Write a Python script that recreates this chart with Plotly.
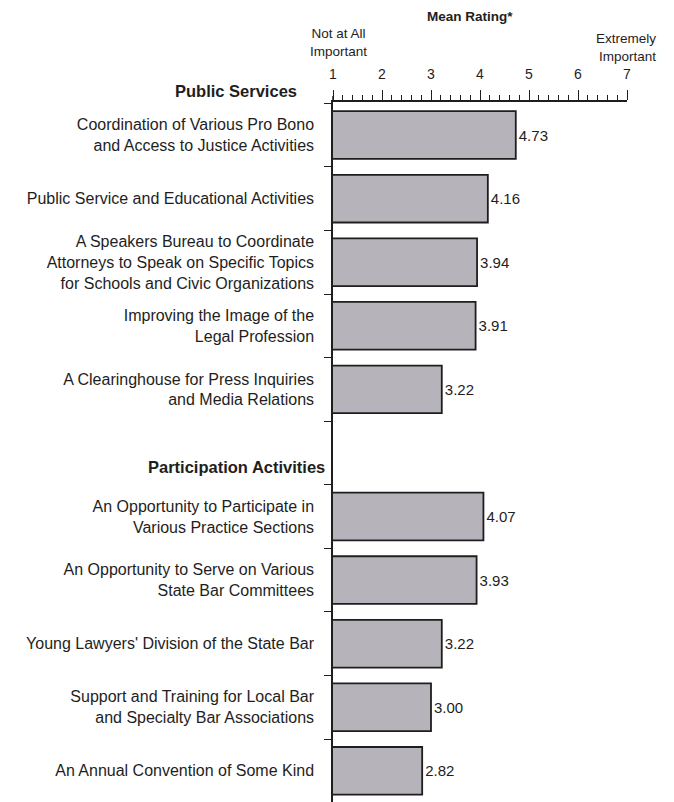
import plotly.graph_objects as go

# ---- data ----
group_titles = ["Public Services", "Participation Activities"]
public_labels = [
    "Coordination of Various Pro Bono<br>and Access to Justice Activities",
    "Public Service and Educational Activities",
    "A Speakers Bureau to Coordinate<br>Attorneys to Speak on Specific Topics<br>for Schools and Civic Organizations",
    "Improving the Image of the<br>Legal Profession",
    "A Clearinghouse for Press Inquiries<br>and Media Relations",
]
public_values = [4.73, 4.16, 3.94, 3.91, 3.22]
participation_labels = [
    "An Opportunity to Participate in<br>Various Practice Sections",
    "An Opportunity to Serve on Various<br>State Bar Committees",
    "Young Lawyers' Division of the State Bar",
    "Support and Training for Local Bar<br>and Specialty Bar Associations",
    "An Annual Convention of Some Kind",
]
participation_values = [4.07, 3.93, 3.22, 3.00, 2.82]
scale_ticks = [1, 2, 3, 4, 5, 6, 7]

# ---- layout geometry (screen pixels; page body has an 8px margin) ----
OFF = 8
SW, SH = 674, 802
W, H = SW - OFF, SH - OFF
L, R, T, B = 333 - OFF, 47, 102 - OFF, 0
pw, ph = W - L - R, H - T - B

def px(x):  # screen x -> paper
    return (x - OFF - L) / pw

def py(y):  # screen y -> paper
    return (H - B - (y - OFF)) / ph

labels = public_labels + participation_labels
values = public_values + participation_values
slots = list(range(len(public_labels))) + [len(public_labels) + 1 + i for i in range(len(participation_labels))]
n_slots = slots[-1] + 1

FONT = "Liberation Sans, Arial, Helvetica, sans-serif"
TXT = "#1e1e1e"

fig = go.Figure(go.Bar(
    x=values, y=slots, orientation="h", width=0.75,
    marker=dict(color="#b6b4ba", line=dict(color="#1e1e1e", width=1.8)),
    text=[f"{v:.2f}" for v in values], textposition="outside",
    textfont=dict(family=FONT, size=15, color=TXT),
    constraintext="none", cliponaxis=False, hoverinfo="skip",
))

fig.update_layout(
    width=W, height=H, autosize=False,
    margin=dict(l=L, r=R, t=T, b=B, pad=0),
    paper_bgcolor="white", plot_bgcolor="white",
    showlegend=False,
    font=dict(family=FONT, size=13, color=TXT),
    xaxis=dict(
        side="top", range=[1, 7], tickmode="array", tickvals=scale_ticks,
        ticks="outside", ticklen=10, tickwidth=1.3, tickcolor=TXT,
        showline=True, linecolor=TXT, linewidth=1.5, automargin=False,
        showgrid=False, zeroline=False, ticklabelstandoff=6,
        tickfont=dict(size=14),
        minor=dict(dtick=0.2, tick0=1, ticks="outside", ticklen=5, tickwidth=1.2, tickcolor=TXT, showgrid=False),
    ),
    yaxis=dict(
        range=[n_slots - 0.51, -0.52], tickmode="array", tickvals=slots, ticktext=labels,
        ticks="", showline=True, linecolor=TXT, linewidth=1.5, automargin=False,
        showgrid=False, zeroline=False, ticklabelstandoff=14,
        tickfont=dict(size=16),
        minor=dict(tickvals=[s + 0.5 for s in range(-1, n_slots)], ticks="outside", ticklen=7,
                   tickwidth=1.2, tickcolor=TXT, showgrid=False),
    ),
)

# small extension of the vertical axis line above the scale line
fig.add_shape(type="line", xref="paper", yref="paper", x0=0, x1=0, y0=1, y1=py(96),
              line=dict(color=TXT, width=1.5))

ann = [
    dict(text="<b>Mean Rating*</b>", x=px(470), y=py(17), xanchor="center", yanchor="middle", font=dict(size=13.5)),
    dict(text="Not at All<br>Important", x=px(338), y=py(42), xanchor="center", yanchor="middle", font=dict(size=13.5)),
    dict(text="Extremely<br>Important", x=px(658), y=py(47), xanchor="right", yanchor="middle", align="right", font=dict(size=13.5)),
    dict(text="<b>" + group_titles[0] + "</b>", x=px(236), y=py(91), xanchor="center", yanchor="middle", font=dict(size=16.5)),
    dict(text="<b>" + group_titles[1] + "</b>", x=px(236), y=py(467), xanchor="center", yanchor="middle", font=dict(size=16.5)),
]
for a in ann:
    fig.add_annotation(xref="paper", yref="paper", showarrow=False, **a)

fig.write_html("out.html")
